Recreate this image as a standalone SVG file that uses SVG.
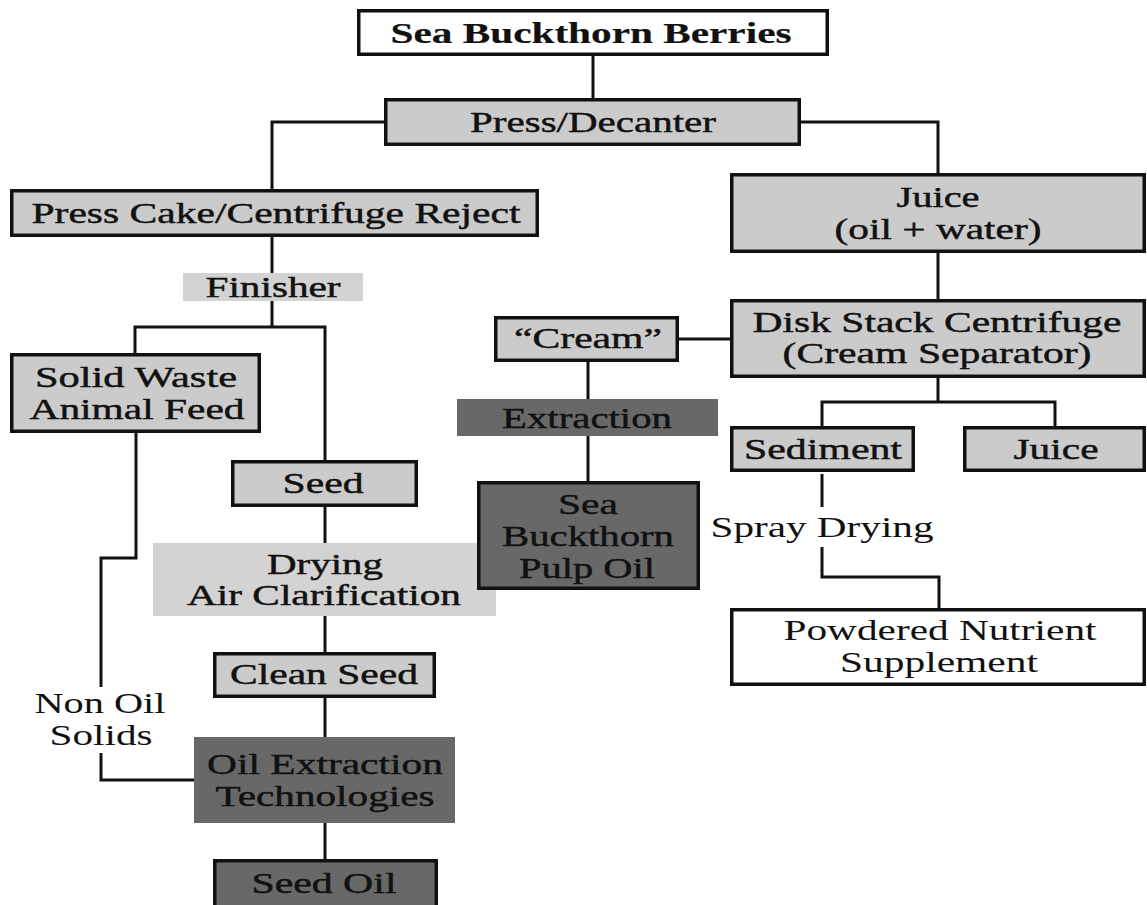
<svg xmlns="http://www.w3.org/2000/svg" width="1147" height="905" viewBox="0 0 1147 905">
<style>
  text { font-family: "Liberation Serif", "Times New Roman", serif; font-size: 30px; fill: #111; stroke: #111; stroke-width: 0.45; text-anchor: middle; }
  .b { font-weight: bold; stroke-width: 0.2; }
  .plain { stroke: none; }
  .box { stroke: #111; stroke-width: 3.5; }
  .white { fill: #ffffff; }
  .light { fill: #cbcbcb; }
  .lighter { fill: #d3d3d3; }
  .dark { fill: #686868; }
  .conn { fill: none; stroke: #111; stroke-width: 3; }
</style>
<rect width="1147" height="905" fill="#ffffff"/>
<g id="connectors" class="conn">
  <path d="M593,56 V98"/>
  <path d="M384,122 H272 V189"/>
  <path d="M801,122 H938 V173"/>
  <path d="M272,237 V273"/>
  <path d="M272,301 V327"/>
  <path d="M135,353 V327 H325 V460"/>
  <path d="M325,507 V543"/>
  <path d="M325,616 V652"/>
  <path d="M325,698 V737"/>
  <path d="M325,823 V859"/>
  <path d="M136,433 V558 H101 V687"/>
  <path d="M101,753 V780 H194"/>
  <path d="M938,253 V299"/>
  <path d="M730,339 H679"/>
  <path d="M588,362 V399"/>
  <path d="M588,436 V481"/>
  <path d="M938,378 V402"/>
  <path d="M822,426 V402 H1055 V426"/>
  <path d="M822,474 V507"/>
  <path d="M822,547 V577 H939 V608"/>
</g>
<g id="berries">
  <rect class="box white" x="358.75" y="10.75" width="468.5" height="43.5"/>
  <text class="b" x="591" y="43" textLength="401" lengthAdjust="spacingAndGlyphs">Sea Buckthorn Berries</text>
</g>
<g id="press">
  <rect class="box light" x="385.75" y="99.75" width="413.5" height="44.5"/>
  <text x="593" y="132" textLength="246" lengthAdjust="spacingAndGlyphs">Press/Decanter</text>
</g>
<g id="presscake">
  <rect class="box light" x="11.75" y="190.75" width="525.5" height="44.5"/>
  <text x="276" y="223" textLength="489" lengthAdjust="spacingAndGlyphs">Press Cake/Centrifuge Reject</text>
</g>
<g id="finisher">
  <rect class="lighter" x="183" y="273" width="180" height="28"/>
  <text x="273" y="297" textLength="135" lengthAdjust="spacingAndGlyphs">Finisher</text>
</g>
<g id="solidwaste">
  <rect class="box light" x="11.75" y="354.75" width="247.5" height="76.5"/>
  <text x="136" y="387" textLength="202" lengthAdjust="spacingAndGlyphs">Solid Waste</text>
  <text x="137" y="419" textLength="215" lengthAdjust="spacingAndGlyphs">Animal Feed</text>
</g>
<g id="seed">
  <rect class="box light" x="232.75" y="461.75" width="183.5" height="43.5"/>
  <text x="323" y="493" textLength="81" lengthAdjust="spacingAndGlyphs">Seed</text>
</g>
<g id="drying">
  <rect class="lighter" x="153" y="543" width="343" height="73"/>
  <text x="325" y="574" textLength="116" lengthAdjust="spacingAndGlyphs">Drying</text>
  <text x="324" y="605" textLength="274" lengthAdjust="spacingAndGlyphs">Air Clarification</text>
</g>
<g id="cleanseed">
  <rect class="box light" x="214.75" y="653.75" width="219.5" height="42.5"/>
  <text x="324" y="684" textLength="188" lengthAdjust="spacingAndGlyphs">Clean Seed</text>
</g>
<g id="nonoil">
  <text class="plain" x="100" y="713" textLength="131" lengthAdjust="spacingAndGlyphs">Non Oil</text>
  <text class="plain" x="101" y="745" textLength="103" lengthAdjust="spacingAndGlyphs">Solids</text>
</g>
<g id="oilextraction">
  <rect class="dark" x="194" y="737" width="261" height="86"/>
  <text x="325" y="774" textLength="236" lengthAdjust="spacingAndGlyphs">Oil Extraction</text>
  <text x="325" y="806" textLength="219" lengthAdjust="spacingAndGlyphs">Technologies</text>
</g>
<g id="seedoil">
  <rect class="box dark" x="214.75" y="860.75" width="221.5" height="60"/>
  <text x="324" y="893" textLength="145" lengthAdjust="spacingAndGlyphs">Seed Oil</text>
</g>
<g id="juice">
  <rect class="box light" x="731.75" y="174.75" width="412.5" height="76.5"/>
  <text x="938" y="207" textLength="83" lengthAdjust="spacingAndGlyphs">Juice</text>
  <text x="938" y="239" textLength="207" lengthAdjust="spacingAndGlyphs">(oil + water)</text>
</g>
<g id="diskstack">
  <rect class="box light" x="731.75" y="300.75" width="412.5" height="75.5"/>
  <text x="937" y="332" textLength="369" lengthAdjust="spacingAndGlyphs">Disk Stack Centrifuge</text>
  <text x="937" y="363" textLength="309" lengthAdjust="spacingAndGlyphs">(Cream Separator)</text>
</g>
<g id="cream">
  <rect class="box light" x="495.75" y="317.75" width="181.5" height="42.5"/>
  <text x="588" y="348" textLength="148" lengthAdjust="spacingAndGlyphs">“Cream”</text>
</g>
<g id="extraction">
  <rect class="dark" x="457" y="399" width="261" height="37"/>
  <text x="587" y="428" textLength="170" lengthAdjust="spacingAndGlyphs">Extraction</text>
</g>
<g id="pulpoil">
  <rect class="box dark" x="478.75" y="482.75" width="219.5" height="105.5"/>
  <text x="588" y="514" textLength="60" lengthAdjust="spacingAndGlyphs">Sea</text>
  <text x="588" y="546" textLength="172" lengthAdjust="spacingAndGlyphs">Buckthorn</text>
  <text x="587" y="578" textLength="136" lengthAdjust="spacingAndGlyphs">Pulp Oil</text>
</g>
<g id="sediment">
  <rect class="box light" x="731.75" y="427.75" width="181.5" height="42.5"/>
  <text x="823" y="459" textLength="158" lengthAdjust="spacingAndGlyphs">Sediment</text>
</g>
<g id="juice2">
  <rect class="box light" x="964.75" y="427.75" width="179.5" height="42.5"/>
  <text x="1056" y="459" textLength="85" lengthAdjust="spacingAndGlyphs">Juice</text>
</g>
<g id="spraydrying">
  <text class="plain" x="822" y="537" textLength="223" lengthAdjust="spacingAndGlyphs">Spray Drying</text>
</g>
<g id="powdered">
  <rect class="box white" x="731.75" y="609.75" width="412.5" height="74.5"/>
  <text class="plain" x="940" y="640" textLength="313" lengthAdjust="spacingAndGlyphs">Powdered Nutrient</text>
  <text class="plain" x="939" y="672" textLength="198" lengthAdjust="spacingAndGlyphs">Supplement</text>
</g>
</svg>
